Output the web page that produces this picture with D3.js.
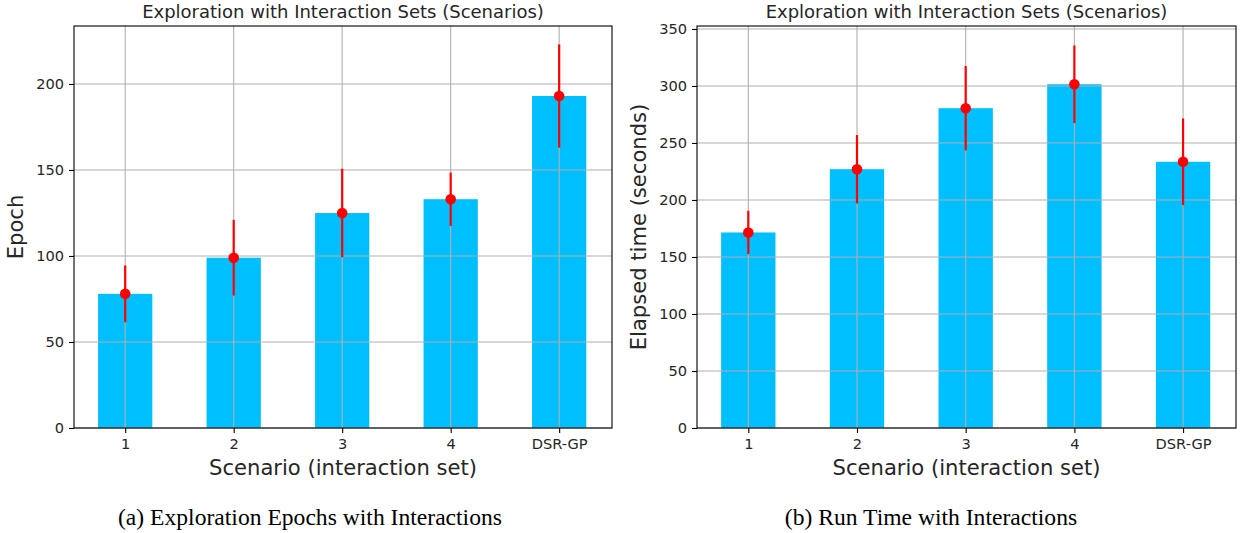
<!DOCTYPE html>
<html>
<head>
<meta charset="utf-8">
<script src="https://cdn.jsdelivr.net/npm/d3@7"></script>
<style>
  body { margin: 0; background: #fff; }
  svg { display: block; }
  text { font-family: "DejaVu Sans", sans-serif; fill: #262626; }
</style>
</head>
<body>
<svg id="chart" width="1241" height="533"></svg>
<script>
// ---- data ----
const categories = ["1", "2", "3", "4", "DSR-GP"];
const epochMeans = [78, 99, 125, 133, 193];
const epochErrors = [16.5, 22, 25.7, 15.5, 30];
const timeMeans = [171.5, 227, 280.5, 301.5, 233.5];
const timeErrors = [19, 30, 37, 34, 38];
const epochTicks = [0, 50, 100, 150, 200];
const timeTicks = [0, 50, 100, 150, 200, 250, 300, 350];
const chartTitle = "Exploration with Interaction Sets (Scenarios)";
const xLabel = "Scenario (interaction set)";
const epochYLabel = "Epoch";
const timeYLabel = "Elapsed time (seconds)";
const captionA = "(a) Exploration Epochs with Interactions";
const captionB = "(b) Run Time with Interactions";

const svg = d3.select("#chart");

function drawPanel(opt) {
  const { left, right, top, bottom, means, errors, ticks, yMax, yLabel, yLabelX, caption, captionX } = opt;
  const g = svg.append("g");
  const x = d3.scaleLinear().domain([-0.472, 4.487]).range([left, right]);
  const y = d3.scaleLinear().domain([0, yMax]).range([bottom, top]);
  const barW = x(0.5) - x(0);

  // bars
  g.selectAll("rect.bar").data(means).join("rect")
    .attr("class", "bar")
    .attr("x", (d, i) => x(i) - barW / 2)
    .attr("y", d => y(d))
    .attr("width", barW)
    .attr("height", d => y(0) - y(d))
    .attr("fill", "#00BFFF");

  // grid (above bars)
  g.selectAll("line.hgrid").data(ticks).join("line")
    .attr("x1", left).attr("x2", right)
    .attr("y1", d => y(d)).attr("y2", d => y(d))
    .attr("stroke", "#b0b0b0").attr("stroke-width", 1.1);
  g.selectAll("line.vgrid").data(categories).join("line")
    .attr("x1", (d, i) => x(i)).attr("x2", (d, i) => x(i))
    .attr("y1", top).attr("y2", bottom)
    .attr("stroke", "#b0b0b0").attr("stroke-width", 1.1);

  // error bars
  g.selectAll("line.err").data(means).join("line")
    .attr("x1", (d, i) => x(i)).attr("x2", (d, i) => x(i))
    .attr("y1", (d, i) => y(d - errors[i]))
    .attr("y2", (d, i) => y(d + errors[i]))
    .attr("stroke", "#ff0000").attr("stroke-width", 2.2);
  g.selectAll("circle.pt").data(means).join("circle")
    .attr("cx", (d, i) => x(i)).attr("cy", d => y(d))
    .attr("r", 5.3).attr("fill", "#ff0000");

  // axes
  const yAxis = d3.axisLeft(y).tickValues(ticks).tickSize(5).tickPadding(5).tickFormat(d3.format("d"));
  const ya = g.append("g").attr("transform", `translate(${left},0)`).call(yAxis);
  const xAxis = d3.axisBottom(x).tickValues(d3.range(categories.length)).tickSize(5).tickPadding(6)
    .tickFormat(i => categories[i]);
  const xa = g.append("g").attr("transform", `translate(0,${bottom})`).call(xAxis);
  [ya, xa].forEach(a => {
    a.select(".domain").remove();
    a.selectAll("line").attr("stroke", "#000").attr("stroke-width", 1.1);
    a.selectAll("text").attr("font-size", 14.6).attr("fill", "#1a1a1a")
      .attr("font-family", "DejaVu Sans, sans-serif");
  });

  // frame
  g.append("rect").attr("x", left).attr("y", top)
    .attr("width", right - left).attr("height", bottom - top)
    .attr("fill", "none").attr("stroke", "#000").attr("stroke-width", 1.1);

  // title
  g.append("text").attr("x", (left + right) / 2).attr("y", 18)
    .attr("text-anchor", "middle").attr("font-size", 18).text(chartTitle);
  // x label
  g.append("text").attr("x", (left + right) / 2).attr("y", 475)
    .attr("text-anchor", "middle").attr("font-size", 21.1).text(xLabel);
  // y label
  g.append("text").attr("transform", `translate(${yLabelX},${(top + bottom) / 2}) rotate(-90)`)
    .attr("text-anchor", "middle").attr("font-size", 21.1).text(yLabel);
  // caption
  g.append("text").attr("x", captionX).attr("y", 525)
    .attr("text-anchor", "middle").attr("font-size", 23.6)
    .style("font-family", "'Liberation Serif', 'Times New Roman', serif").style("fill", "#000").text(caption);
}

drawPanel({ left: 74, right: 612, top: 26, bottom: 428, means: epochMeans, errors: epochErrors,
  ticks: epochTicks, yMax: 233.7, yLabel: epochYLabel, yLabelX: 23, caption: captionA, captionX: 310 });
drawPanel({ left: 697, right: 1236, top: 26, bottom: 428, means: timeMeans, errors: timeErrors,
  ticks: timeTicks, yMax: 352.6, yLabel: timeYLabel, yLabelX: 646, caption: captionB, captionX: 931 });
</script>
</body>
</html>
